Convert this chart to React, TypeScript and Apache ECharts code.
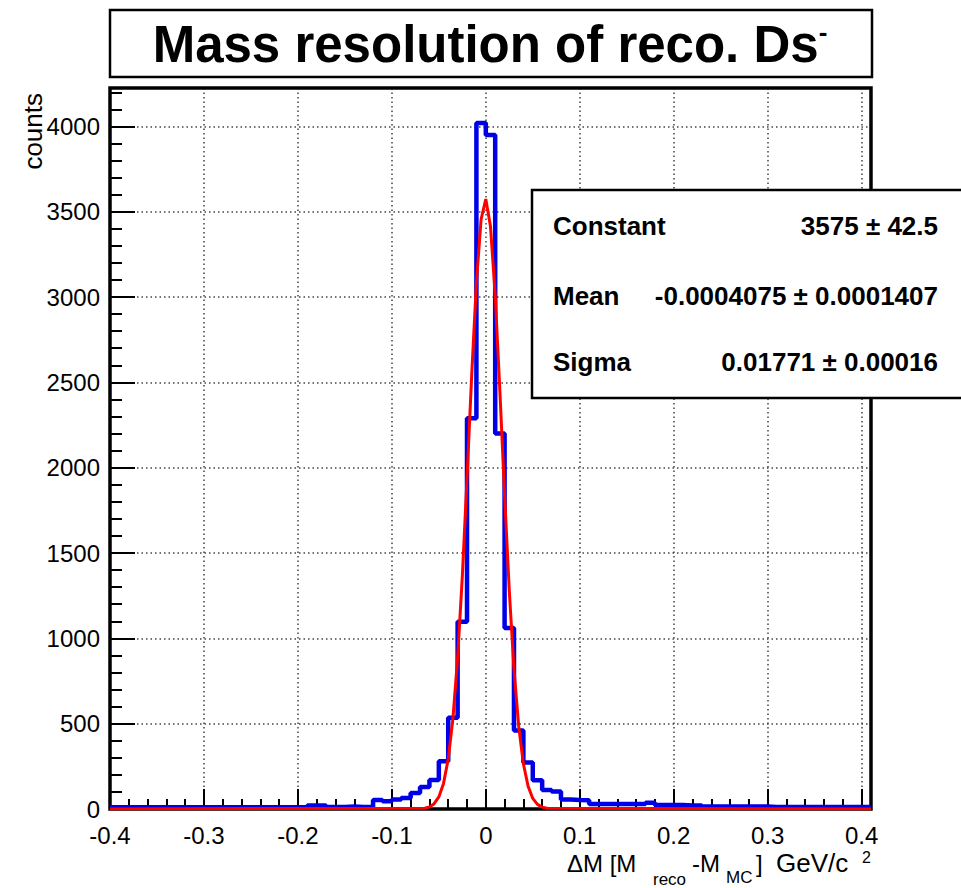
import React, { useEffect, useRef } from 'react';
import * as echarts from 'echarts';

// ---- data ----
const TITLE_MAIN = 'Mass resolution of reco. Ds';
const TITLE_SUP = '-';
const Y_TITLE = 'counts';

const X_MIN = -0.4;
const X_MAX = 0.41;
const Y_MIN = 0;
const Y_MAX = 4225;

// histogram: 81 bins of width 0.01 starting at -0.4
const BIN_START = -0.4;
const BIN_WIDTH = 0.01;
const counts = [
  10, 10, 10, 10, 10, 10, 10, 10, 10, 10,
  10, 10, 10, 10, 10, 10, 10, 10, 10, 10,
  10, 20, 20, 12, 12, 14, 12, 12, 53, 45,
  55, 64, 94, 129, 170, 280, 535, 1097, 2290, 4020,
  3950, 2200, 1060, 460, 272, 168, 112, 102, 55, 53,
  52, 29, 29, 29, 29, 29, 29, 37, 23, 23,
  23, 20, 20, 15, 15, 15, 15, 15, 15, 15,
  12, 12, 12, 12, 12, 12, 12, 12, 12, 12,
  12,
];

// fitted gaussian as drawn (red curve)
const fitX = [
  -0.4, -0.065, -0.06, -0.055, -0.05, -0.045, -0.04, -0.035, -0.03, -0.025,
  -0.02, -0.015, -0.01, -0.005, 0, 0.005, 0.01, 0.015, 0.02, 0.025,
  0.03, 0.035, 0.04, 0.045, 0.05, 0.055, 0.06, 0.065, 0.41,
];
const fitY = [
  0, 5, 12, 31, 71, 150, 293, 530, 885, 1362,
  1938, 2544, 3086, 3456, 3574, 3413, 3009, 2449, 1841, 1279,
  819, 485, 265, 134, 62, 27, 11, 4, 0,
];

const statLabels = ['Constant', 'Mean', 'Sigma'];
const statValues = ['3575 \u00b1 42.5', '-0.0004075 \u00b1 0.0001407', '0.01771 \u00b1 0.00016'];

const FONT = '"Liberation Sans", Arial, Helvetica, sans-serif';

export default function App() {
  const ref = useRef<HTMLDivElement>(null);

  useEffect(() => {
    if (!ref.current) return;
    const chart = echarts.init(ref.current, undefined, { renderer: 'svg' });

    const histPoints: number[][] = counts.map((c, i) => [BIN_START + i * BIN_WIDTH, c]);
    histPoints.push([BIN_START + counts.length * BIN_WIDTH, counts[counts.length - 1]]);
    const fitPoints = fitX.map((x, i) => [x, fitY[i]]);

    const gl = { left: 110, top: 88, width: 761, height: 721 };

    const xFmt = (v: number) => {
      const r = Math.round(v * 10) / 10;
      if (Math.abs(v - r) > 1e-6) return '';
      return r === 0 ? '0' : String(r);
    };
    const yFmt = (v: number) => (Math.abs(v % 500) < 1e-6 ? String(Math.round(v)) : '');

    const tickStyle = { color: '#000', width: 2 };
    const gridLine = { show: true, lineStyle: { color: '#444', type: [1.5, 3], width: 1.5 } };

    const statRows = [226, 296, 362];
    const statGraphics: any[] = [];
    statLabels.forEach((lab, i) => {
      statGraphics.push({
        type: 'text', z: 11,
        style: { text: lab, x: 553, y: statRows[i], font: `bold 26px ${FONT}`, fill: '#000', align: 'left', verticalAlign: 'middle' },
      });
      statGraphics.push({
        type: 'text', z: 11,
        style: { text: statValues[i], x: 938, y: statRows[i], font: `bold 26px ${FONT}`, fill: '#000', align: 'right', verticalAlign: 'middle' },
      });
    });

    const option: any = {
      animation: false,
      backgroundColor: '#ffffff',
      grid: { ...gl, show: false, containLabel: false },
      xAxis: [
        {
          type: 'value', min: X_MIN, max: X_MAX, interval: 0.1, position: 'bottom',
          axisLine: { show: false, onZero: false },
          axisTick: { show: true, inside: true, length: 20, lineStyle: tickStyle },
          axisLabel: { show: true, margin: 16, fontSize: 24, lineHeight: 20, color: '#000', fontFamily: FONT, formatter: xFmt },
          splitLine: gridLine,
        },
        {
          type: 'value', min: X_MIN, max: X_MAX, interval: 0.02, position: 'bottom',
          axisLine: { show: false, onZero: false },
          axisTick: { show: true, inside: true, length: 10, lineStyle: tickStyle },
          axisLabel: { show: false },
          splitLine: { show: false },
        },
      ],
      yAxis: [
        {
          type: 'value', min: Y_MIN, max: Y_MAX, interval: 500, position: 'left',
          axisLine: { show: false, onZero: false },
          axisTick: { show: true, inside: true, length: 25, lineStyle: tickStyle },
          axisLabel: { show: true, margin: 10, fontSize: 24, lineHeight: 20, color: '#000', fontFamily: FONT, formatter: yFmt },
          splitLine: gridLine,
        },
        {
          type: 'value', min: Y_MIN, max: Y_MAX, interval: 100, position: 'left',
          axisLine: { show: false, onZero: false },
          axisTick: { show: true, inside: true, length: 12, lineStyle: tickStyle },
          axisLabel: { show: false },
          splitLine: { show: false },
        },
      ],
      series: [
        {
          type: 'line', xAxisIndex: 0, yAxisIndex: 0, data: histPoints, step: 'end',
          symbol: 'none', showSymbol: false, z: 3,
          lineStyle: { color: '#0000e6', width: 4.5 },
        },
        {
          type: 'line', xAxisIndex: 0, yAxisIndex: 0, data: fitPoints,
          symbol: 'none', showSymbol: false, z: 4,
          lineStyle: { color: '#ff0000', width: 3 },
        },
      ],
      graphic: [
        // plot frame
        {
          type: 'rect', z: 1, silent: true,
          shape: { x: gl.left, y: gl.top, width: gl.width, height: gl.height },
          style: { fill: 'none', stroke: '#000', lineWidth: 3.5 },
        },
        // title box
        {
          type: 'rect', z: 10,
          shape: { x: 110, y: 10, width: 762, height: 67 },
          style: { fill: '#fff', stroke: '#000', lineWidth: 2.5 },
        },
        {
          type: 'text', z: 11,
          style: {
            text: `{t|${TITLE_MAIN}}{s|${TITLE_SUP}}`,
            x: 490, y: 44, align: 'center', verticalAlign: 'middle', fill: '#000',
            rich: {
              t: { fontSize: 51, fontWeight: 'bold', fontFamily: FONT },
              s: { fontSize: 26, fontWeight: 'bold', fontFamily: FONT, verticalAlign: 'top', padding: [0, 0, 4, 0] },
            },
          },
        },
        // stats box
        {
          type: 'rect', z: 10,
          shape: { x: 532, y: 190, width: 440, height: 208 },
          style: { fill: '#fff', stroke: '#000', lineWidth: 2.5 },
        },
        ...statGraphics,
        // y title
        {
          type: 'text', z: 11, x: 33, y: 93, rotation: Math.PI / 2,
          style: { text: Y_TITLE, x: 0, y: 0, font: `26px ${FONT}`, fill: '#000', align: 'right', verticalAlign: 'middle' },
        },
        // x title pieces
        { type: 'text', z: 11, style: { text: '\u0394M [M', x: 567, y: 863, font: `24px ${FONT}`, fill: '#000', align: 'left', verticalAlign: 'middle' } },
        { type: 'text', z: 11, style: { text: 'reco', x: 653, y: 879, font: `17px ${FONT}`, fill: '#000', align: 'left', verticalAlign: 'middle' } },
        { type: 'text', z: 11, style: { text: '-M', x: 692, y: 863, font: `24px ${FONT}`, fill: '#000', align: 'left', verticalAlign: 'middle' } },
        { type: 'text', z: 11, style: { text: 'MC', x: 726, y: 877, font: `17px ${FONT}`, fill: '#000', align: 'left', verticalAlign: 'middle' } },
        { type: 'text', z: 11, style: { text: ']', x: 756, y: 863, font: `24px ${FONT}`, fill: '#000', align: 'left', verticalAlign: 'middle' } },
        { type: 'text', z: 11, style: { text: 'GeV/c', x: 776, y: 863, font: `26px ${FONT}`, fill: '#000', align: 'left', verticalAlign: 'middle' } },
        { type: 'text', z: 11, style: { text: '2', x: 862, y: 857, font: `16px ${FONT}`, fill: '#000', align: 'left', verticalAlign: 'middle' } },
      ],
    };

    chart.setOption(option);
    return () => chart.dispose();
  }, []);

  return (
    <div
      ref={ref}
      style={{ position: 'fixed', left: 0, top: 0, width: 961, height: 888, background: '#fff' }}
    />
  );
}
